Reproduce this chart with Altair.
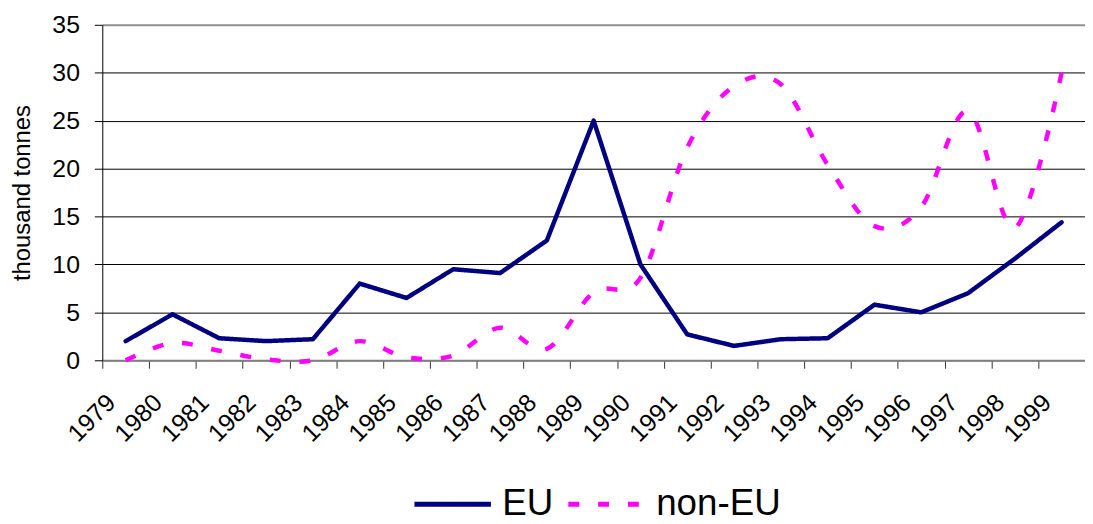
import altair as alt
import pandas as pd

years = [str(y) for y in range(1979, 2000)]
eu = [2.0, 4.8, 2.3, 2.0, 2.2, 8.0, 6.5, 9.5, 9.1, 12.5, 25.0, 10.0, 2.7, 1.5,
      2.2, 2.3, 5.8, 5.0, 7.0, 10.6, 14.4]
non_eu = [0.0, 1.8, 1.0, 0.1, 0.0, 2.0, 0.3, 0.5, 3.4, 1.2, 7.1, 8.6, 22.2, 28.6,
          28.8, 20.4, 14.0, 16.0, 26.0, 13.8, 30.0]
series = ["EU", "non-EU"]
series_colors = ["#000080", "#FF00FF"]
y_ticks = [0, 5, 10, 15, 20, 25, 30, 35]

df = pd.DataFrame({
    "year": years * 2,
    "value": eu + non_eu,
    "series": [series[0]] * len(eu) + [series[1]] * len(non_eu),
})

FONT = "Liberation Sans"

legend = alt.Legend(
    title=None, orient="none", legendX=312, legendY=442, direction="horizontal",
    symbolType="stroke", symbolSize=5929, symbolStrokeWidth=5,
    labelFontSize=37, labelFont=FONT, labelColor="#000", labelOffset=9,
    columnPadding=4, padding=0,
)

x = alt.X(
    "year:O",
    scale=alt.Scale(type="band", paddingInner=0, paddingOuter=0),
    axis=alt.Axis(
        title=None, tickBand="extent", labelAngle=-45, labelAlign="right",
        labelBaseline="middle", labelFontSize=25, labelFont=FONT, labelColor="#000",
        labelPadding=30, labelOffset=-15, tickSize=8, domainColor="#808080",
        tickColor="#333", domainWidth=2, grid=False,
    ),
)
y = alt.Y(
    "value:Q",
    scale=alt.Scale(domain=[0, 35], nice=False, zero=True),
    axis=alt.Axis(
        values=y_ticks, title="thousand tonnes", titleFont=FONT, titleFontSize=24,
        titleFontWeight="normal", titleColor="#000", titleX=-80, titleY=169,
        titleAngle=-90, titleBaseline="middle", titleAlign="center",
        labelFontSize=25, labelFont=FONT, labelColor="#000", labelPadding=15,
        tickSize=8, tickColor="#000", domainColor="#000", grid=True,
        gridColor={"condition": {"test": "datum.value == 35", "value": "#909090"}, "value": "#000"},
        gridWidth={"condition": {"test": "datum.value == 35", "value": 2}, "value": 1},
    ),
)
color = alt.Color("series:N", scale=alt.Scale(domain=series, range=series_colors), legend=legend)
dash = alt.StrokeDash("series:N", scale=alt.Scale(domain=series, range=[[1, 0], [11, 19]]), legend=legend)

base = alt.Chart(df).encode(x=x, y=y, color=color, strokeDash=dash)
eu_line = base.transform_filter(alt.datum.series == "EU").mark_line(
    strokeWidth=4.5, strokeCap="round", strokeJoin="round")
non_line = base.transform_filter(alt.datum.series == "non-EU").mark_line(
    strokeWidth=4.5, interpolate="cardinal", strokeCap="butt")

chart = alt.layer(eu_line, non_line).properties(
    width=990, height=338,
    autosize=alt.AutoSizeParams(type="none"),
    padding={"left": 95, "top": 15, "right": 0, "bottom": 162},
).configure_view(stroke=None)

chart.save("out.html", embed_options={"renderer": "svg", "actions": False})
